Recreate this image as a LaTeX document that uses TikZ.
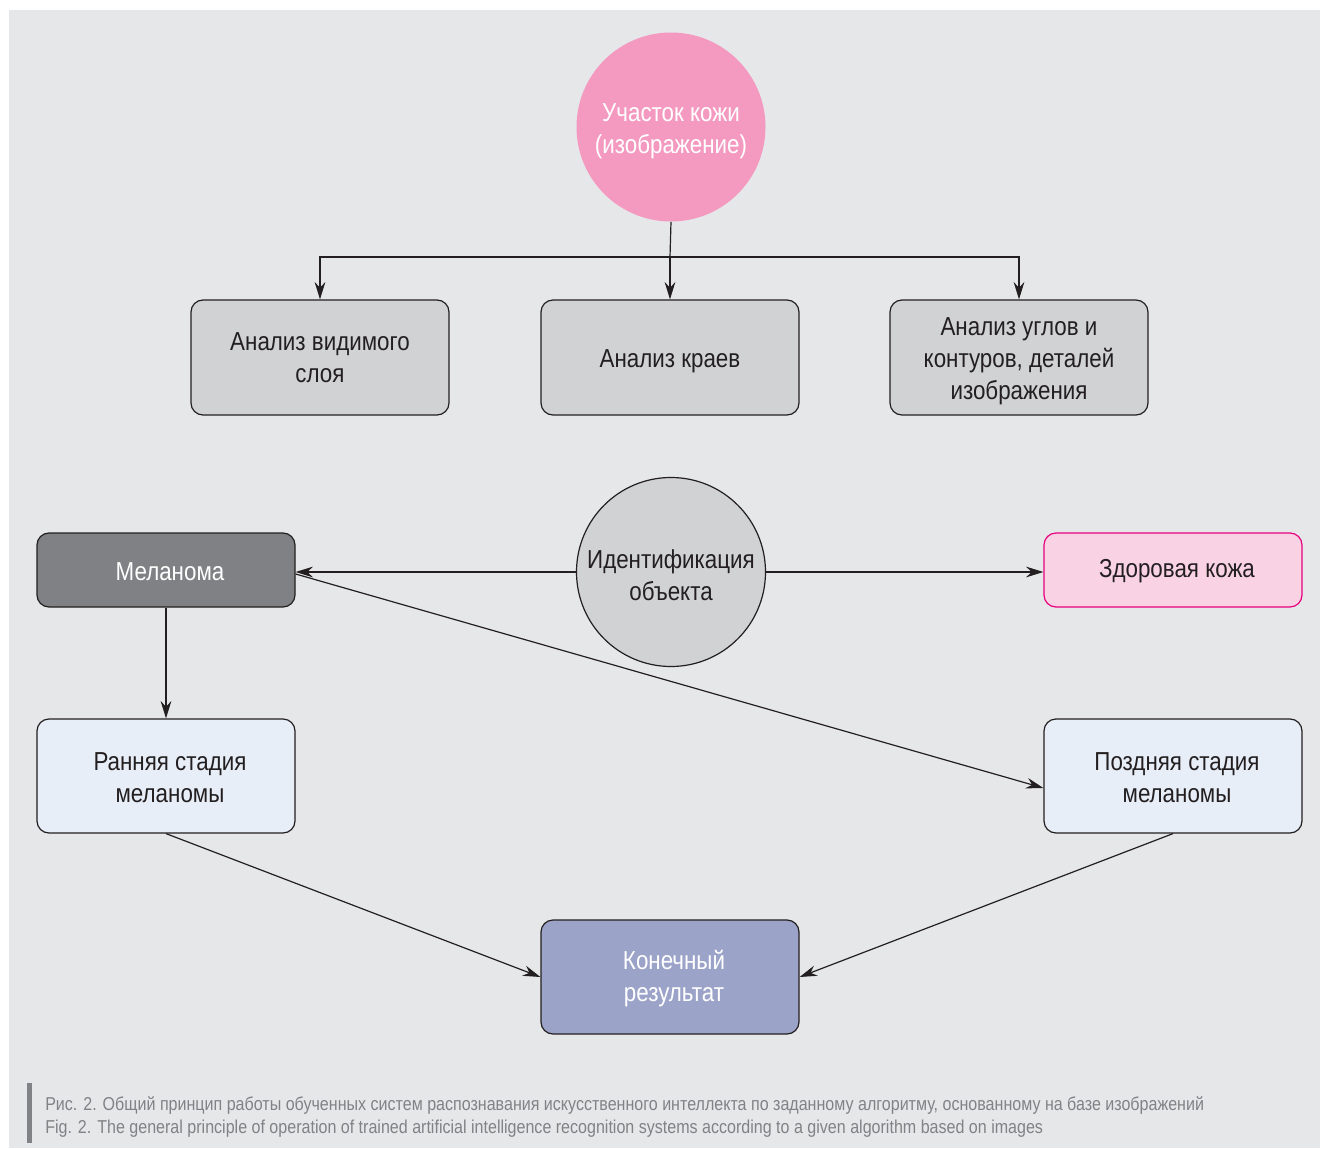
\documentclass[tikz,border=0pt]{standalone}
\usepackage{fontspec}
\setmainfont{Liberation Sans}[FakeStretch=0.86]
\usetikzlibrary{arrows.meta}
\definecolor{panel}{HTML}{E6E7E8}
\definecolor{boxgray}{HTML}{D1D2D4}
\definecolor{darkgray}{HTML}{808184}
\definecolor{pinkc}{HTML}{F49AC1}
\definecolor{lightpink}{HTML}{F9D3E4}
\definecolor{magentab}{HTML}{E6007E}
\definecolor{lightblue}{HTML}{E8EEF8}
\definecolor{lavender}{HTML}{9CA3C9}
\definecolor{captiongray}{HTML}{808285}
\definecolor{linec}{HTML}{231F20}
\tikzset{
  x=0.75pt, y=-0.75pt,
  every node/.style={font=\fontsize{19.5}{24}\selectfont, align=center, text=linec},
  rbox/.style={draw=linec, line width=0.9pt, rounded corners=9pt, inner sep=0pt},
  wide/.style={minimum width=258*0.75pt},
  conn/.style={draw=linec, line width=0.9pt, -{Stealth[length=13pt,width=8pt]}},
  plain/.style={draw=linec, line width=0.9pt},
  inlab/.style={label={[xshift=4*0.75pt, yshift=-1.5*0.75pt, font=\fontsize{19.5}{24}\selectfont, align=center]center:#1}},
  toplab/.style={label={[yshift=-4*0.75pt, font=\fontsize{19.5}{24}\selectfont, align=center]center:#1}},
  captxt/.style={anchor=base west, text=captiongray, font=\fontsize{14}{17}\selectfont, align=left, inner sep=0pt},
}
\begin{document}
\begin{tikzpicture}
\useasboundingbox (0,0) rectangle (1322,1149);
\fill[white] (0,0) rectangle (1322,1149);
\fill[panel] (9,10) rectangle (1320,1148);

% top circle
\node[circle, fill=pinkc, minimum size=189*0.75pt, inner sep=0pt,
  label={[yshift=-4*0.75pt, text=white, align=center]center:Участок кожи\\(изображение)}] (skin) at (671,127) {};

% first row boxes
\node[rbox, wide, fill=boxgray, minimum height=115*0.75pt] (b1) at (320,357.5) {Анализ видимого\\слоя};
\node[rbox, wide, fill=boxgray, minimum height=115*0.75pt, toplab={Анализ краев}] (b2) at (670,357.5) {};
\node[rbox, wide, fill=boxgray, minimum height=115*0.75pt, toplab={Анализ углов и\\контуров, деталей\\изображения}] (b3) at (1019,357.5) {};

\coordinate (split) at (670,257);
\draw[plain] (skin.south) -- (split);
\draw[conn] (split) -- (b2.north);
\draw[conn] (split) -| (b1.north);
\draw[conn] (split) -| (b3.north);

% identification circle
\node[circle, draw=linec, line width=0.9pt, fill=boxgray, minimum size=189*0.75pt, inner sep=0pt,
  label={[yshift=-3*0.75pt, align=center]center:Идентификация\\объекта}] (ident) at (671,572) {};

\node[rbox, wide, fill=darkgray, minimum height=74*0.75pt, inlab={\color{white}Меланома}] (mel) at (166,570) {};
\node[rbox, wide, draw=magentab, fill=lightpink, minimum height=74*0.75pt, inlab={Здоровая кожа}] (healthy) at (1173,570) {};

\node[rbox, wide, fill=lightblue, minimum height=114*0.75pt, inlab={Ранняя стадия\\меланомы}] (early) at (166,776) {};
\node[rbox, wide, fill=lightblue, minimum height=114*0.75pt, inlab={Поздняя стадия\\меланомы}] (late) at (1173,776) {};

\node[rbox, wide, fill=lavender, minimum height=114*0.75pt, inlab={\color{white}Конечный\\\color{white}результат}] (final) at (670,977) {};

\draw[conn] (ident.west) -- (mel.east |- ident.west);
\draw[conn] (ident.east) -- (healthy.west |- ident.east);
\draw[conn] ([yshift=-4*0.75pt]mel.east) -- ([yshift=-12*0.75pt]late.west);
\draw[conn] (mel.south) -- (early.north);
\draw[conn] (early.south) -- (final.west);
\draw[conn] (late.south) -- (final.east);

% caption
\fill[captiongray] (27,1083) rectangle (32,1143);
\node[captxt] (cap1) at (45,1110) {Рис. 2. Общий принцип работы обученных систем распознавания искусственного интеллекта по заданному алгоритму, основанному на базе изображений};
\node[captxt] (cap2) at (45,1133) {Fig. 2. The general principle of operation of trained artificial intelligence recognition systems according to a given algorithm based on images};
\end{tikzpicture}
\end{document}
